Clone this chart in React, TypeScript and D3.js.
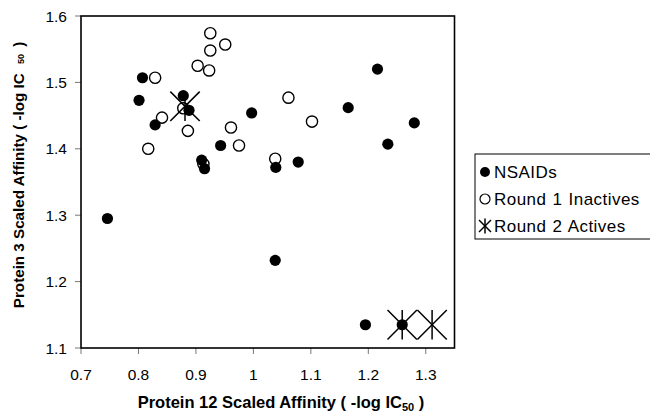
import React from "react";
import * as d3 from "d3";

const nsaidX = [0.807, 0.801, 0.878, 0.888, 0.829, 0.997, 0.943, 0.910, 0.915, 1.039, 1.078, 1.216, 1.165, 1.280, 1.234, 0.746, 1.038, 1.195, 1.259];
const nsaidY = [1.507, 1.473, 1.480, 1.458, 1.436, 1.454, 1.405, 1.383, 1.370, 1.372, 1.380, 1.520, 1.462, 1.439, 1.407, 1.295, 1.232, 1.135, 1.135];

const round1X = [0.925, 0.951, 0.925, 0.903, 0.923, 0.829, 0.878, 0.841, 0.886, 0.961, 0.975, 0.817, 1.061, 1.038, 1.102, 0.913];
const round1Y = [1.574, 1.557, 1.548, 1.525, 1.518, 1.507, 1.461, 1.447, 1.427, 1.432, 1.405, 1.400, 1.477, 1.385, 1.441, 1.377];

const round2X = [0.881, 1.259, 1.311];
const round2Y = [1.464, 1.135, 1.135];

const xTicks = [0.7, 0.8, 0.9, 1, 1.1, 1.2, 1.3];
const yTicks = [1.1, 1.2, 1.3, 1.4, 1.5, 1.6];
const legendLabels = ["NSAIDs", "Round 1 Inactives", "Round 2 Actives"];

const W = 650;
const H = 414;
const L = 81, R = 454.5, T = 16, B = 348;

function Star({ cx, cy, sx, sy }: { cx: number; cy: number; sx: number; sy: number }) {
  return (
    <g stroke="#000" strokeWidth={1.5}>
      <line x1={cx - sx} y1={cy - sx} x2={cx + sx} y2={cy + sx} />
      <line x1={cx - sx} y1={cy + sx} x2={cx + sx} y2={cy - sx} />
      <line x1={cx} y1={cy - sy} x2={cx} y2={cy + sy} />
    </g>
  );
}

export default function App() {
  const x = d3.scaleLinear().domain([0.7, 1.35]).range([L, R]);
  const y = d3.scaleLinear().domain([1.1, 1.6]).range([B, T]);
  const font = "Arial, 'Liberation Sans', Helvetica, sans-serif";
  const fmt = (v: number) => (v === 1 ? "1" : d3.format(".1f")(v));

  return (
    <svg width={W} height={H} style={{ position: "absolute", left: 0, top: 0, background: "#fff" }} fontFamily={font}>
      <rect x={0} y={0} width={W} height={H} fill="#fff" />
      {/* ticks */}
      {yTicks.map((t) => (
        <g key={"y" + t}>
          <line x1={L - 6} x2={L} y1={y(t)} y2={y(t)} stroke="#777" strokeWidth={1} />
          <text x={67} y={y(t) + 5.5} fontSize={15.5} textAnchor="end" fill="#000">{fmt(t)}</text>
        </g>
      ))}
      {xTicks.map((t) => (
        <g key={"x" + t}>
          <line x1={x(t)} x2={x(t)} y1={B} y2={B + 6} stroke="#777" strokeWidth={1} />
          <text x={x(t)} y={B + 32} fontSize={15.5} textAnchor="middle" fill="#000">{fmt(t)}</text>
        </g>
      ))}
      {/* frame */}
      <rect x={L} y={T} width={R - L} height={B - T} fill="none" stroke="#000" strokeWidth={1.6} />

      {/* Round 1 inactives */}
      {round1X.map((v, i) => (
        <circle key={"o" + i} cx={x(v)} cy={y(round1Y[i])} r={5.6} fill="none" stroke="#000" strokeWidth={1.4} />
      ))}
      {/* NSAIDs */}
      {nsaidX.map((v, i) => (
        <circle key={"f" + i} cx={x(v)} cy={y(nsaidY[i])} r={5.6} fill="#000" />
      ))}
      {/* Round 2 actives */}
      {round2X.map((v, i) => (
        <Star key={"s" + i} cx={x(v)} cy={y(round2Y[i])} sx={14.7} sy={14.7} />
      ))}

      {/* axis titles */}
      <text x={281} y={408} fontSize={16.5} fontWeight="bold" textAnchor="middle" fill="#000">
        Protein 12 Scaled Affinity ( -log IC<tspan fontSize={11} dy={3}>50</tspan><tspan dy={-3}> )</tspan>
      </text>
      <text transform="translate(24,175) rotate(-90)" fontSize={15.2} fontWeight="bold" textAnchor="middle" fill="#000">
        Protein 3 Scaled Affinity ( -log IC <tspan fontSize={9} dx={5}>50</tspan><tspan dx={3}> )</tspan>
      </text>

      {/* legend */}
      <rect x={475} y={154} width={176} height={85} fill="#fff" stroke="#000" strokeWidth={1} />
      {legendLabels.map((lab, i) => {
        const cy = [172, 199, 226][i];
        return (
          <g key={lab}>
            {i === 0 && <circle cx={485} cy={cy} r={5} fill="#000" />}
            {i === 1 && <circle cx={485} cy={cy} r={5} fill="none" stroke="#000" strokeWidth={1.2} />}
            {i === 2 && <Star cx={485} cy={cy} sx={6} sy={7.5} />}
            <text x={494} y={cy + 6} fontSize={17} letterSpacing={0.45} wordSpacing={1} fill="#000">{lab}</text>
          </g>
        );
      })}
    </svg>
  );
}
